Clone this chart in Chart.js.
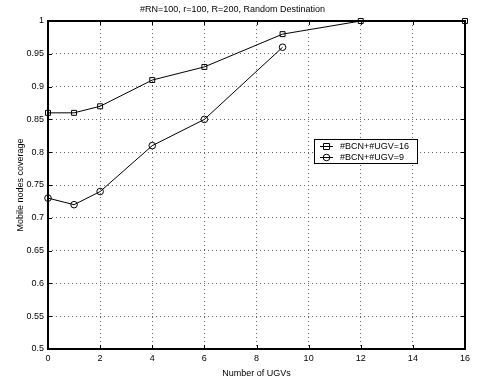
<!DOCTYPE html>
<html>
<head>
<meta charset="utf-8">
<script src="https://cdn.jsdelivr.net/npm/chart.js@4/dist/chart.umd.min.js"></script>
<style>
  html, body { margin: 0; padding: 0; background: #fff; }
  #wrap { width: 479px; height: 379px; }
</style>
</head>
<body>
<div id="wrap"><canvas id="chart" width="479" height="379"></canvas></div>
<script>
// data
const ugvCounts16 = [0, 1, 2, 4, 6, 9, 12, 16];
const coverage16 = [0.86, 0.86, 0.87, 0.91, 0.93, 0.98, 1.0, 1.0];
const ugvCounts9 = [0, 1, 2, 4, 6, 9];
const coverage9 = [0.73, 0.72, 0.74, 0.81, 0.85, 0.96];
const seriesLabels = ['#BCN+#UGV=16', '#BCN+#UGV=9'];
const xTicks = [0, 2, 4, 6, 8, 10, 12, 14, 16];
const yTicks = [0.5, 0.55, 0.6, 0.65, 0.7, 0.75, 0.8, 0.85, 0.9, 0.95, 1];

const FONT = 'Liberation Sans, Arial, Helvetica, sans-serif';

function toPoints(xs, ys) {
    return xs.map((x, i) => ({ x: x, y: ys[i] }));
}

// box + inward tick marks, matlab style
const boxPlugin = {
    id: 'boxPlugin',
    beforeDatasetsDraw(chart) {
        const { ctx, chartArea: a, scales } = chart;
        ctx.save();
        ctx.strokeStyle = '#000';
        ctx.lineWidth = 1;
        const len = 4;
        ctx.beginPath();
        xTicks.forEach(v => {
            const px = Math.round(scales.x.getPixelForValue(v)) + 0.5;
            ctx.moveTo(px, a.bottom); ctx.lineTo(px, a.bottom - len);
            ctx.moveTo(px, a.top); ctx.lineTo(px, a.top + len);
        });
        yTicks.forEach(v => {
            const py = Math.round(scales.y.getPixelForValue(v)) + 0.5;
            ctx.moveTo(a.left, py); ctx.lineTo(a.left + len, py);
            ctx.moveTo(a.right, py); ctx.lineTo(a.right - len, py);
        });
        ctx.stroke();
        ctx.lineWidth = 2;
        ctx.strokeRect(Math.round(a.left), Math.round(a.top), Math.round(a.right - a.left), Math.round(a.bottom - a.top));
        ctx.restore();
    }
};

// legend box inside the axes, like the reference
const insideLegend = {
    id: 'insideLegend',
    afterDraw(chart) {
        const { ctx, chartArea: a } = chart;
        const bx = Math.round(a.left + (a.right - a.left) * 0.638);
        const by = Math.round(a.top + (a.bottom - a.top) * 0.36);
        const bw = 103, bh = 24;
        ctx.save();
        ctx.fillStyle = '#fff';
        ctx.fillRect(bx, by, bw, bh);
        ctx.strokeStyle = '#000';
        ctx.lineWidth = 1;
        ctx.strokeRect(bx + 0.5, by + 0.5, bw, bh);
        ctx.font = '9px ' + FONT;
        ctx.textBaseline = 'middle';
        ctx.fillStyle = '#000';
        chart.data.datasets.forEach((ds, i) => {
            const y = Math.round(by + 7 + i * 10.5) + 0.5;
            ctx.beginPath();
            ctx.moveTo(bx + 6, y); ctx.lineTo(bx + 19, y);
            ctx.stroke();
            const mx = bx + 12.5;
            ctx.beginPath();
            if (ds.pointStyle === 'rect') {
                ctx.rect(mx - 3, y - 3, 6, 6);
            } else {
                ctx.arc(mx, y, 3.3, 0, Math.PI * 2);
            }
            ctx.stroke();
            ctx.fillText(ds.label, bx + 26, y + 0.5);
        });
        ctx.restore();
    }
};

new Chart(document.getElementById('chart'), {
    type: 'scatter',
    data: {
        datasets: [{
            label: seriesLabels[0],
            data: toPoints(ugvCounts16, coverage16),
            showLine: true,
            clip: false,
            borderColor: '#000',
            borderWidth: 1,
            pointStyle: 'rect',
            pointRadius: 3.5,
            pointBorderColor: '#000',
            pointBackgroundColor: 'rgba(0,0,0,0)',
            pointBorderWidth: 1
        }, {
            label: seriesLabels[1],
            data: toPoints(ugvCounts9, coverage9),
            showLine: true,
            clip: false,
            borderColor: '#000',
            borderWidth: 1,
            pointStyle: 'circle',
            pointRadius: 3.3,
            pointBorderColor: '#000',
            pointBackgroundColor: 'rgba(0,0,0,0)',
            pointBorderWidth: 1
        }]
    },
    options: {
        responsive: false,
        animation: false,
        layout: { padding: { top: 0, right: 14, left: 0, bottom: 0 } },
        plugins: {
            legend: { display: false },
            tooltip: { enabled: false },
            title: {
                display: true,
                text: '#RN=100, r=100, R=200, Random Destination',
                color: '#000',
                font: { family: FONT, size: 9, weight: 'normal' },
                padding: { top: 4, bottom: 6.2 }
            }
        },
        scales: {
            x: {
                type: 'linear',
                min: 0,
                max: 16,
                afterBuildTicks: s => { s.ticks = xTicks.map(v => ({ value: v })); },
                afterFit: s => { s.height = 30; },
                ticks: {
                    color: '#000',
                    font: { family: FONT, size: 9 },
                    padding: 4,
                    maxRotation: 0
                },
                grid: { color: '#666', lineWidth: 1, drawTicks: false },
                border: { display: false, dash: [1, 3] },
                title: {
                    display: true,
                    text: 'Number of UGVs',
                    color: '#000',
                    font: { family: FONT, size: 9 },
                    padding: { top: 1, bottom: 0 }
                }
            },
            y: {
                type: 'linear',
                min: 0.5,
                max: 1,
                afterBuildTicks: s => { s.ticks = yTicks.map(v => ({ value: v })); },
                afterFit: s => { s.width = 48; },
                ticks: {
                    color: '#000',
                    font: { family: FONT, size: 9 },
                    padding: 4,
                    callback: v => String(Math.round(v * 100) / 100)
                },
                grid: { color: '#666', lineWidth: 1, drawTicks: false },
                border: { display: false, dash: [1, 3] },
                title: {
                    display: true,
                    text: 'Mobile nodes coverage',
                    color: '#000',
                    font: { family: FONT, size: 9 },
                    padding: { top: 15, bottom: 0 }
                }
            }
        }
    },
    plugins: [boxPlugin, insideLegend]
});
</script>
</body>
</html>
